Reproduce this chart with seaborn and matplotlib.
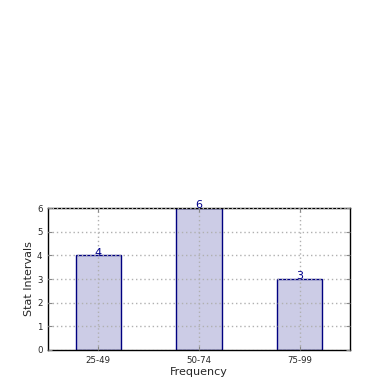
import matplotlib
matplotlib.use("Agg")
import matplotlib.pyplot as plt
import seaborn as sns
import pandas as pd

# datos del grafico
intervalos = ['25-49', '50-74', '75-99']
frecuencias = [4, 6, 3]

df = pd.DataFrame({'intervalo': intervalos, 'frecuencia': frecuencias})

sns.set_style('white')
plt.rcParams['font.family'] = ['DejaVu Sans']

fig = plt.figure(figsize=(3.9, 3.9), dpi=100)
ax = fig.add_axes([0.123, 0.1026, 0.774, 0.364])

sns.barplot(data=df, x='intervalo', y='frecuencia', ax=ax, width=0.45,
            color=(0.8, 0.8, 0.9), edgecolor='navy', linewidth=1, saturation=1)

# etiquetas encima de cada barra
for i, v in enumerate(frecuencias):
    ax.text(i, v - 0.02, str(v), ha='center', va='baseline', color='darkblue', fontsize=8)

ax.set_xlim(-0.5, 2.5)
ax.set_ylim(0, 6)
ax.set_yticks(range(0, 7))
ax.grid(True, linestyle=(0, (1, 2)), color='#b0b0b0', linewidth=1)
ax.set_axisbelow(False)
ax.tick_params(axis='x', labelsize=6.2, direction='in', length=3, top=True, bottom=True,
               color='#888888', pad=4)
ax.tick_params(axis='y', labelsize=6.2, direction='in', length=3, left=True, right=True,
               color='#888888', pad=4)
for s in ax.spines.values():
    s.set_color('black')
    s.set_linewidth(1)

ax.set_xlabel('Frequency', fontsize=8, labelpad=2)
ax.set_ylabel('Stat Intervals', fontsize=8, labelpad=2)

fig.savefig('out.png', dpi=100)
